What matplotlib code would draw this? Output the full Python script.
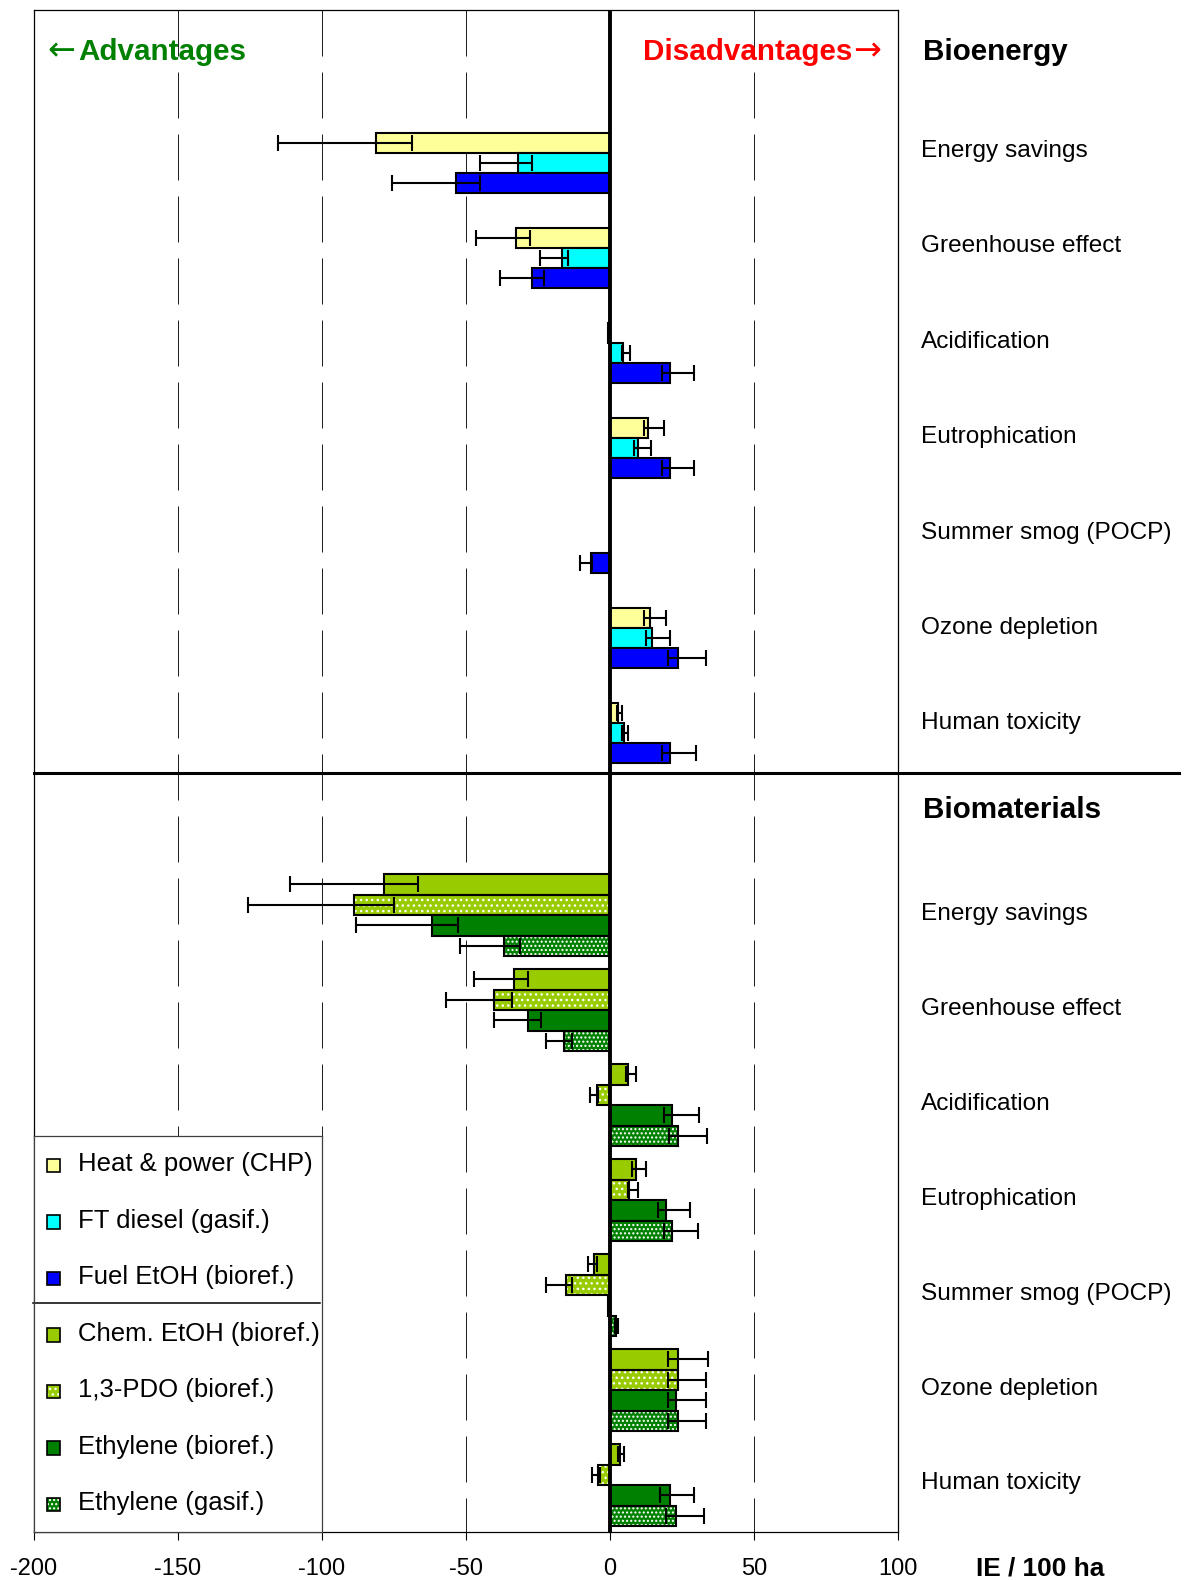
import numpy as np
import matplotlib.pyplot as plt
from matplotlib.patches import Rectangle
from matplotlib.lines import Line2D

plt.rcParams['font.family'] = ['Liberation Sans', 'DejaVu Sans']
plt.rcParams['axes.unicode_minus'] = False
plt.rcParams['hatch.linewidth'] = 1.0

W, H = 1184, 1580

categories = ['Energy savings', 'Greenhouse effect', 'Acidification', 'Eutrophication',
              'Summer smog (POCP)', 'Ozone depletion', 'Human toxicity']

# Bioenergy (IE / 100 ha); *_lo / *_hi = ends of the error bar
chp = [-81.3, -32.6, -0.8, 13.3, 0.0, 13.9, 2.9]
chp_lo = [-115.3, -46.5, -0.8, 11.8, 0.0, 11.8, 2.6]
chp_hi = [-68.8, -27.8, -0.8, 18.9, 0.0, 19.4, 4.1]

ft = [-31.8, -16.7, 4.6, 9.6, 0.0, 14.5, 4.9]
ft_lo = [-45.1, -24.3, 4.3, 8.3, 0.0, 12.5, 4.3]
ft_hi = [-27.0, -14.5, 6.9, 14.1, 0.0, 20.8, 6.4]

etoh = [-53.5, -27.0, 20.8, 20.8, -6.7, 23.7, 20.8]
etoh_lo = [-75.6, -38.2, 18.0, 18.0, -10.4, 20.3, 18.0]
etoh_hi = [-45.1, -22.8, 29.3, 29.3, -6.1, 33.3, 29.9]

# Biomaterials
chem = [-78.5, -33.2, 6.1, 9.0, -5.4, 23.7, 3.5]
chem_lo = [-111.1, -47.2, 5.6, 7.8, -7.5, 20.3, 2.9]
chem_hi = [-66.6, -28.4, 8.9, 12.6, -4.6, 34.1, 4.9]

pdo = [-88.9, -40.3, -4.6, 6.7, -15.3, 23.7, -4.1]
pdo_lo = [-125.6, -56.9, -6.9, 6.4, -22.2, 20.3, -6.1]
pdo_hi = [-74.9, -34.0, -4.0, 9.8, -13.1, 33.3, -3.5]

eth_b = [-61.8, -28.4, 21.6, 19.4, -0.7, 22.9, 20.8]
eth_b_lo = [-88.2, -40.3, 18.9, 16.6, -0.7, 20.3, 17.4]
eth_b_hi = [-52.7, -24.1, 30.8, 27.9, -0.7, 33.3, 29.3]

eth_g = [-36.8, -15.9, 23.7, 21.6, 2.0, 23.7, 22.9]
eth_g_lo = [-52.1, -22.2, 20.5, 18.9, 1.7, 20.3, 19.4]
eth_g_hi = [-31.3, -13.3, 33.6, 30.7, 2.9, 33.3, 32.7]

bioenergy = [
    ('Heat & power (CHP)', chp, chp_lo, chp_hi, '#FFFF99', None),
    ('FT diesel (gasif.)', ft, ft_lo, ft_hi, '#00FFFF', None),
    ('Fuel EtOH (bioref.)', etoh, etoh_lo, etoh_hi, '#0000FF', None),
]
biomaterials = [
    ('Chem. EtOH (bioref.)', chem, chem_lo, chem_hi, '#99CC00', None),
    ('1,3-PDO (bioref.)', pdo, pdo_lo, pdo_hi, '#99CC00', '...'),
    ('Ethylene (bioref.)', eth_b, eth_b_lo, eth_b_hi, '#008000', None),
    ('Ethylene (gasif.)', eth_g, eth_g_lo, eth_g_hi, '#008000', '....'),
]


def fx(px):
    return px / W


def fy(py):
    return 1 - py / H


fig = plt.figure(figsize=(W / 100, H / 100), dpi=100)
ax_top, ax_bot = 9.8, 1532
ax = fig.add_axes([fx(34), fy(ax_bot), fx(898) - fx(34), fy(ax_top) - fy(ax_bot)])
ax.set_xlim(-200, 100)
ax.set_ylim(ax_bot, ax_top)  # y in page pixels, top down


def draw_block(series, top, pitch, bar_h):
    n = len(categories)
    for j, (name, vals, lo, hi, color, hatch) in enumerate(series):
        vals, lo, hi = np.array(vals), np.array(lo), np.array(hi)
        y = top + np.arange(n) * pitch + (j + 0.5) * bar_h
        if hatch:
            ax.barh(y, vals, height=bar_h, color=color, edgecolor='white',
                    hatch=hatch, lw=0, zorder=2)
            ax.barh(y, vals, height=bar_h, facecolor='none', edgecolor='black',
                    lw=1.5, zorder=3)
        else:
            ax.barh(y, vals, height=bar_h, color=color, edgecolor='black',
                    lw=1.5, zorder=3)
        m = hi > lo
        ax.errorbar(vals[m], y[m], xerr=[vals[m] - lo[m], hi[m] - vals[m]],
                    fmt='none', ecolor='black', elinewidth=1.5, capsize=6,
                    capthick=1.5, zorder=5)


draw_block(bioenergy, 133, 95, 20)
draw_block(biomaterials, 874, 95, 20.5)

# dashed grid and the zero line
ax.vlines([-150, -100, -50, 50], ax_top, ax_bot, colors='#202020', lw=0.72,
          linestyles=[(0, (46, 16))], zorder=1)
ax.axvline(0, color='black', lw=2.8, zorder=4)

for s in ax.spines.values():
    s.set_linewidth(0.9)
ax.set_yticks([])
ax.set_xticks(range(-200, 101, 50))
ax.tick_params(axis='x', direction='out', length=5.8, width=0.8, labelsize=17, pad=13)

# line between the two blocks
fig.add_artist(Line2D([fx(34), fx(1179)], [fy(773), fy(773)], color='black', lw=2.2))

# headings
fig.text(fx(47), fy(60.5), '\u2190', color='#008000', fontsize=24,
         family='DejaVu Sans', va='baseline')
fig.text(fx(78.5), fy(60.5), 'Advantages', color='#008000', fontsize=21.3,
         fontweight='bold', va='baseline')
fig.text(fx(852), fy(60.5), 'Disadvantages', color='#FF0000', fontsize=21.3,
         fontweight='bold', va='baseline', ha='right')
fig.text(fx(853), fy(60.5), '\u2192', color='#FF0000', fontsize=24,
         family='DejaVu Sans', va='baseline')
fig.text(fx(923), fy(59.5), 'Bioenergy', fontsize=21.3, fontweight='bold', va='baseline')
fig.text(fx(923), fy(818.5), 'Biomaterials', fontsize=21.3, fontweight='bold', va='baseline')

for i, cat in enumerate(categories):
    fig.text(fx(921), fy(157 + i * 95.4), cat, fontsize=17.6, va='baseline')
    fig.text(fx(921), fy(920 + i * 94.9), cat, fontsize=17.6, va='baseline')

fig.text(fx(976), fy(1575.5), 'IE / 100 ha', fontsize=18.9, fontweight='bold', va='baseline')

# legend box
lg_top = 1136
lax = fig.add_axes([fx(34), fy(ax_bot), fx(322) - fx(34), fy(lg_top) - fy(ax_bot)])
lax.set_zorder(6)
lax.set_xlim(34, 322)
lax.set_ylim(ax_bot, lg_top)
lax.set_xticks([])
lax.set_yticks([])
for s in lax.spines.values():
    s.set_linewidth(0.9)
    s.set_color('#404040')

entries = [(name, color, hatch) for name, _, _, _, color, hatch in bioenergy + biomaterials]
for k, (name, color, hatch) in enumerate(entries):
    yc = 1162.7 + k * 56.5
    if hatch:
        lax.add_patch(Rectangle((46.5, yc - 4.2), 13.5, 13.5, facecolor=color,
                                edgecolor='white', hatch=hatch, lw=0))
        lax.add_patch(Rectangle((46.5, yc - 4.2), 13.5, 13.5, facecolor='none',
                                edgecolor='black', lw=1.2))
    else:
        lax.add_patch(Rectangle((46.5, yc - 4.2), 13.5, 13.5, facecolor=color,
                                edgecolor='black', lw=1.2))
    lax.text(77.5, yc + 8.7, name, fontsize=18.5, va='baseline')
lax.plot([33, 320], [1302.7, 1302.7], color='black', lw=1.1, clip_on=False)

fig.savefig('out.png', dpi=100)
